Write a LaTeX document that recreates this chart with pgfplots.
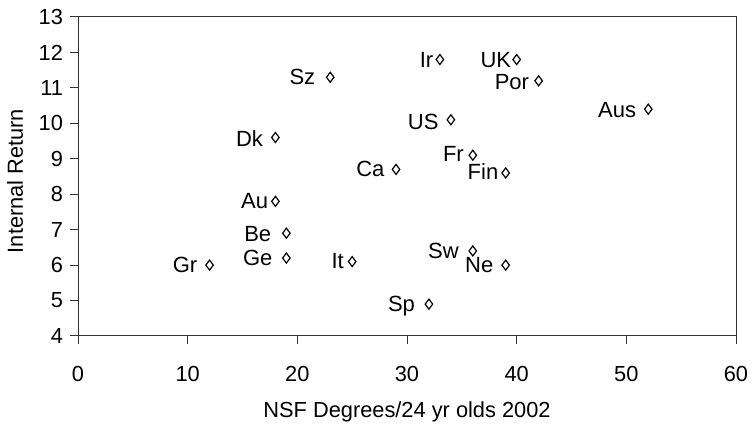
\documentclass[border=0pt]{standalone}
\usepackage{pgfplots}
\pgfplotsset{compat=1.18}
\usepackage{pgfplotstable}
\usepackage{fontspec}
\setmainfont{Liberation Sans}

\pgfplotstableread{
x y lab dx dy
23 11.3 Sz -7.2 -3.6
18 9.6 Dk -5.9 -4.3
18 7.8 Au -3.4 -3.6
33 11.8 Ir -3.0 -4.1
40 11.8 UK -2.5 -3.9
42 11.2 Por -4.5 -4.3
52 10.4 Aus -5.8 -4.2
34 10.1 US -5.9 -5.0
36 9.1 Fr -4.2 -3.0
39 8.6 Fin -3.4 -3.2
29 8.7 Ca -5.5 -3.5
19 6.9 Be -7.3 -4.2
19 6.2 Ge -6.7 -3.7
12 6.0 Gr -5.9 -3.6
25 6.1 It -3.9 -3.6
36 6.4 Sw -6.7 -3.8
39 6.0 Ne -5.9 -3.6
32 4.9 Sp -6.7 -3.8
}\data

\begin{document}
\begin{tikzpicture}
\begin{axis}[
  width=329pt, height=159.5pt, scale only axis,
  xmin=0, xmax=60, ymin=4, ymax=13,
  xtick={0,10,...,60}, ytick={4,5,...,13},
  tick align=outside, tick pos=left, major tick length=4pt,
  axis line style={line width=0.5pt, black!80},
  every tick/.style={line width=0.5pt, black!80},
  font=\fontsize{10.9}{12}\selectfont,
  /pgf/number format/assume math mode=true,
  xticklabel style={yshift=-7.5pt},
  xlabel={NSF Degrees/24 yr olds 2002},
  ylabel={Internal Return},
  xlabel style={at={(axis description cs:0.5,-0.2367)}, anchor=center},
  ylabel style={at={(axis description cs:-0.0957,0.486)}, anchor=center},
  clip=false,
]
\addplot[only marks, mark=diamond, mark size=2.5pt, black,
  mark options={line width=0.6pt, fill=white},
  visualization depends on={\thisrow{dx} \as \dx},
  visualization depends on={\thisrow{dy} \as \dy},
  nodes near coords, point meta=explicit symbolic,
  nodes near coords style={anchor=base east, inner sep=0pt, xshift=\dx*1pt, yshift=\dy*1pt, black, font=\fontsize{11}{12}\selectfont},
] table[x=x, y=y, meta=lab]{\data};
\coordinate (bl) at (axis description cs:-0.11854,-0.27586);
\coordinate (tr) at (axis description cs:1.02584,1.0533);
\end{axis}
\pgfresetboundingbox
\path[use as bounding box] (bl) rectangle (tr);
\end{tikzpicture}
\end{document}
